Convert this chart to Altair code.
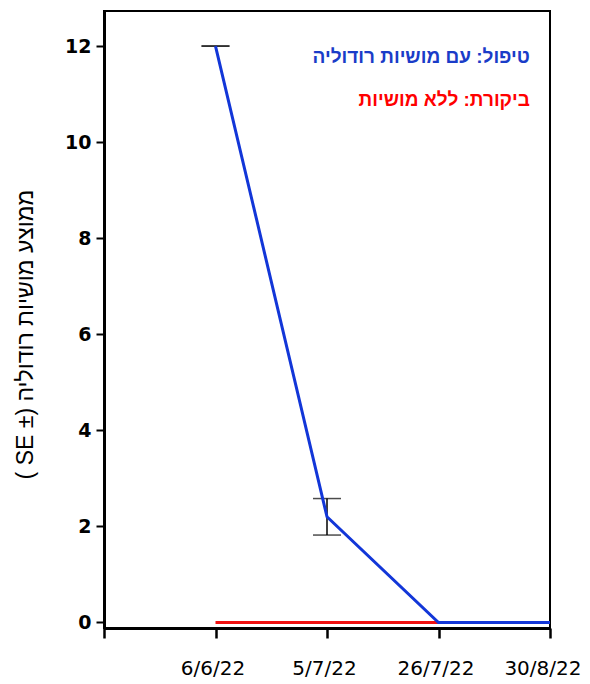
import altair as alt
import pandas as pd

# ---- data ----
x_labels = ["6/6/22", "5/7/22", "26/7/22", "30/8/22"]
x_index = [1, 2, 3, 4]
treatment = [12.0, 2.2, 0.0, 0.0]
control = [0.0, 0.0, 0.0, 0.0]
err_index = [1, 2]
err_low = [12.0, 1.82]
err_high = [12.0, 2.58]
series_names = ["טיפול: עם מושיות רודוליה", "ביקורת: ללא מושיות"]
series_colors = ["#1236d8", "#f01010"]
text_colors = ["#1a3cc8", "#ff0000"]
y_title = "\u202bממוצע מושיות רודוליה (± SE )\u202c"

df_t = pd.DataFrame({"x": x_index, "y": treatment})
df_c = pd.DataFrame({"x": x_index, "y": control})
df_e = pd.DataFrame({"x": err_index, "lo": err_low, "hi": err_high})
df_lab = pd.DataFrame({"name": series_names, "color": text_colors,
                       "x": [3.82, 3.82], "y": [11.77, 10.87]})

label_js = "[''," + ",".join("'" + s + "'" for s in x_labels) + "][datum.value]"

x_scale = alt.Scale(domain=[0, 4], nice=False, zero=False)
y_scale = alt.Scale(domain=[-0.115, 12.73], nice=False, zero=False)

x_axis = alt.Axis(values=[0, 1, 2, 3, 4], labelExpr=label_js, title=None,
                  grid=False, domainWidth=3, domainColor="black",
                  tickWidth=2.5, tickSize=10, tickColor="black",
                  labelFontSize=20, labelFont="DejaVu Sans", labelColor="black",
                  labelPadding=20,
                  labelAlign={"condition": {"test": "datum.value == 4", "value": "right"},
                              "value": "center"},
                  labelOffset={"condition": {"test": "datum.value == 4", "value": 31},
                               "value": -3},
                  labelFlush=False, labelOverlap=False)
y_axis = alt.Axis(values=[0, 2, 4, 6, 8, 10, 12], title=y_title, grid=False,
                  domainWidth=3, domainColor="black", tickWidth=2, tickSize=8,
                  tickColor="black", labelFontSize=19, labelFontWeight="bold",
                  labelFont="DejaVu Sans", labelColor="black", labelPadding=5,
                  titleFont="Liberation Sans", titleFontSize=23, titleFontWeight="normal",
                  titleColor="black", titleX=-79, titleY=323, titleAngle=270,
                  titleBaseline="middle", titleAlign="center")

err_rule = alt.Chart(df_e).mark_rule(color="black", strokeWidth=1.5).encode(
    x=alt.X("x:Q", scale=x_scale, axis=x_axis),
    y=alt.Y("lo:Q", scale=y_scale, axis=y_axis),
    y2="hi:Q",
)
cap_lo = alt.Chart(df_e).mark_tick(color="black", orient="horizontal", size=28,
                                   thickness=1.5).encode(
    x=alt.X("x:Q", scale=x_scale), y=alt.Y("lo:Q", scale=y_scale))
cap_hi = alt.Chart(df_e).mark_tick(color="black", orient="horizontal", size=28,
                                   thickness=1.5).encode(
    x=alt.X("x:Q", scale=x_scale), y=alt.Y("hi:Q", scale=y_scale))

line_c = alt.Chart(df_c).mark_line(color=series_colors[1], strokeWidth=3).encode(
    x=alt.X("x:Q", scale=x_scale), y=alt.Y("y:Q", scale=y_scale))
line_t = alt.Chart(df_t).mark_line(color=series_colors[0], strokeWidth=3).encode(
    x=alt.X("x:Q", scale=x_scale), y=alt.Y("y:Q", scale=y_scale))

labels = alt.Chart(df_lab).mark_text(align="right", baseline="middle",
                                     font="Liberation Sans", fontSize=19,
                                     fontWeight="bold").encode(
    x=alt.X("x:Q", scale=x_scale), y=alt.Y("y:Q", scale=y_scale),
    text="name:N", color=alt.Color("color:N", scale=None))

chart = alt.layer(err_rule, cap_lo, cap_hi, line_c, line_t, labels).properties(
    width=446, height=617,
    autosize=alt.AutoSizeParams(type="none"),
    padding={"left": 96, "top": 3, "right": 32, "bottom": 50},
    background="white",
).configure_view(stroke="black", strokeWidth=2)

chart.save("out.html", embed_options={"renderer": "svg", "actions": False})
